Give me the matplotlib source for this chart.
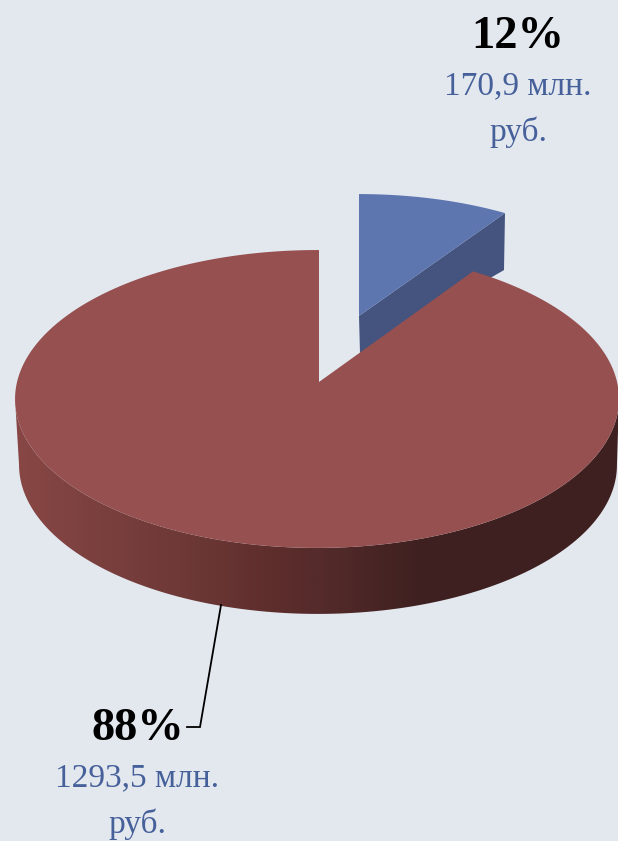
#!/usr/bin/python3

import numpy as np
import matplotlib
matplotlib.use("Agg")
import matplotlib.pyplot as plt

# shares as drawn in the picture (the wedge is narrower than its label says)
slice_shares = [9.53, 90.47]
pct_labels   = ["12%", "88%"]
sum_labels   = ["170,9 млн.\nруб.", "1293,5 млн.\nруб."]

# side wall shading: position along x and the colour
wall_x      = [15, 100, 200, 280, 320, 420, 620]
wall_red    = [0x88, 0x7a, 0x6b, 0x5c, 0x55, 0x3f, 0x3f]
wall_green  = [0x47, 0x40, 0x37, 0x2d, 0x2b, 0x20, 0x20]
wall_blue   = [0x45, 0x3e, 0x35, 0x2b, 0x2b, 0x20, 0x20]

bg_color   = "#e3e8ef"
red_top    = "#965050"
blue_top   = "#5e76b0"
blue_side  = "#44547f"
text_color = "#46609a"

# perspective of each disc: x0, y0, R, k, c, e
red_top_view     = (319, 382, 300.0, 147, 0.114, 0.0065)
red_bottom_view  = (318, 448, 297.0, 147, 0.114, 0.0)
blue_top_view    = (359, 316, 289.0, 139, 0.140, 0.0)
blue_bottom_view = (359, 353, 286.0, 139, 0.140, 0.0)


def project(theta, view):
    # theta runs clockwise from the top of the disc, in degrees
    x0, y0, r, k, c, e = view
    u = np.sin(np.radians(theta))
    v = np.cos(np.radians(theta))
    w = 1 + c * v + e * u
    return x0 + r * u / w, y0 - k * v / w


fig = plt.figure(figsize=(6.18, 8.41), dpi=100, facecolor=bg_color)
ax = fig.add_axes([0, 0, 1, 1])
ax.axis("off")

blue_end = 360 * slice_shares[0] / sum(slice_shares)

# blue slice: the cut wall first, the top over it
tx, ty = project(blue_end, blue_top_view)
bx, by = project(blue_end, blue_bottom_view)
ax.fill([359, tx, bx + 0.5, 360], [316, ty, ty + 57, 353], color=blue_side, lw=0)
angles = np.linspace(0, blue_end, 40)
x, y = project(angles, blue_top_view)
ax.fill(np.r_[359, x], np.r_[316, y], color=blue_top, lw=0)

# red slice: outer wall as a horizontal gradient, between the widest points of the discs
angles = np.linspace(96.5, 263.5, 240)
tx, ty = project(angles, red_top_view)
bx, by = project(angles, red_bottom_view)
columns = np.arange(0, 619)
shade = np.stack([np.interp(columns, wall_x, wall_red),
                  np.interp(columns, wall_x, wall_green),
                  np.interp(columns, wall_x, wall_blue)], axis=-1) / 255
wall_img = ax.imshow(shade[np.newaxis, :, :], extent=(0, 618, 841, 0), aspect="auto")
wall_outline = ax.fill(np.r_[tx, bx[::-1]], np.r_[ty, by[::-1]], color="none", lw=0)[0]
wall_img.set_clip_path(wall_outline)

# red top
angles = np.linspace(blue_end, 360, 300)
x, y = project(angles, red_top_view)
ax.fill(np.r_[319, x], np.r_[382, y], color=red_top, lw=0)

# leader line of the big slice
ax.plot([221, 200, 187], [605, 727, 727], color="black", lw=1.3, solid_joinstyle="miter")

serif = "Liberation Serif"
ax.text(518, 37, pct_labels[0], ha="center", va="center", family=serif,
        fontweight="bold", fontsize=33.5, color="black")
ax.text(518, 109, sum_labels[0], ha="center", va="center", family=serif,
        fontsize=24, color=text_color, linespacing=1.62)
ax.text(138, 729, pct_labels[1], ha="center", va="center", family=serif,
        fontweight="bold", fontsize=33.5, color="black")
ax.text(137, 801, sum_labels[1], ha="center", va="center", family=serif,
        fontsize=24, color=text_color, linespacing=1.62)

ax.set_xlim(0, 618)
ax.set_ylim(841, 0)
fig.savefig("out.png", dpi=100, facecolor=bg_color)
